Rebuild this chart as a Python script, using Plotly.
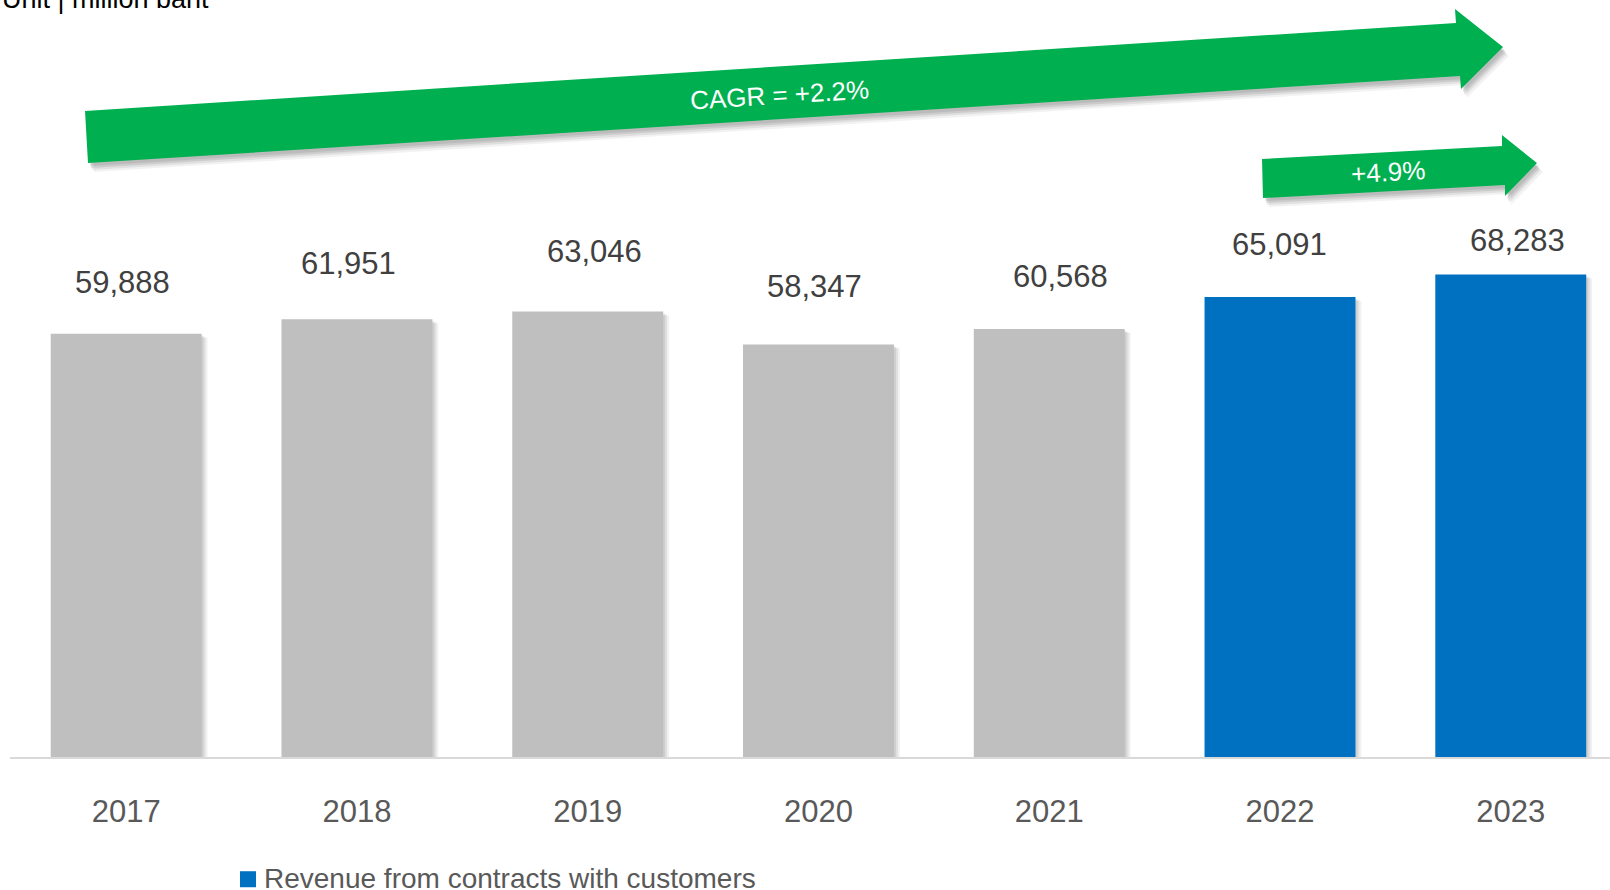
import plotly.graph_objects as go

# ---------------- data ----------------
years = ["2017", "2018", "2019", "2020", "2021", "2022", "2023"]
revenue = [59888, 61951, 63046, 58347, 60568, 65091, 68283]
highlight_years = ["2022", "2023"]
series_name = "Revenue from contracts with customers"
cagr_total_text = "CAGR = +2.2%"
cagr_recent_text = "+4.9%"
unit_text = "Unit | million baht"

# label nudges (pixels) as placed in the original slide
label_dx = [-4, -8, 7, -4, 11, -1, 7]
label_dy = [51, 56, 60, 58, 52, 52, 34]

# ---------------- geometry ----------------
W, H = 1610, 890
ML, MR, MT, MB = 10, 0, 0, 133.2
PW = W - ML - MR
PH = H - MT - MB
PX_PER_UNIT = 7.066e-3
Y_MAX = PH / PX_PER_UNIT
X_RANGE = [-0.5035, 6.430]
PX_PER_CAT = PW / (X_RANGE[1] - X_RANGE[0])
BAR_W = 0.654


def px(x):
    return (x - ML) / PW


def py(y):
    return (MT + PH - y) / PH


FONT = "Liberation Sans, Arial, sans-serif"
GRAY = "#bfbfbf"
BLUE = "#0070c0"
GREEN = "#00b050"

gray_x = [y for y in years if y not in highlight_years]
gray_v = [v for y, v in zip(years, revenue) if y not in highlight_years]
blue_x = [y for y in years if y in highlight_years]
blue_v = [v for y, v in zip(years, revenue) if y in highlight_years]

fig = go.Figure()
# soft drop shadow behind bars
for dx, dy, a in ((6, 4, 0.05), (4, 3, 0.07), (2, 2, 0.08)):
    fig.add_trace(go.Bar(x=years, y=[v - dy / PX_PER_UNIT for v in revenue],
                         width=BAR_W, offset=-BAR_W / 2 + dx / PX_PER_CAT,
                         marker=dict(color=f"rgba(0,0,0,{a})", line=dict(width=0)),
                         showlegend=False, hoverinfo="skip"))
fig.add_trace(go.Bar(x=gray_x, y=gray_v, width=BAR_W, offset=-BAR_W / 2,
                     marker=dict(color=GRAY, line=dict(width=0)),
                     showlegend=False, hoverinfo="x+y"))
fig.add_trace(go.Bar(x=blue_x, y=blue_v, width=BAR_W, offset=-BAR_W / 2,
                     marker=dict(color=BLUE, line=dict(width=0)),
                     name=series_name, showlegend=False, hoverinfo="x+y"))


def poly(points):
    return "M " + " L ".join(f"{px(x):.5f},{py(y):.5f}" for x, y in points) + " Z"


big_arrow = [(85, 111), (1456, 23), (1455, 9), (1503, 47), (1461, 89), (1460, 76), (88, 163)]
small_arrow = [(1262, 159), (1502, 146), (1502, 135), (1537, 163), (1505, 196), (1505, 185), (1263, 198)]

shapes = []
for pts in (big_arrow, small_arrow):
    for dx, dy, a in ((6, 9, 0.05), (4, 7, 0.07), (3, 5, 0.09), (2, 3, 0.08)):
        shapes.append(dict(type="path", xref="paper", yref="paper",
                           path=poly([(x + dx, y + dy) for x, y in pts]),
                           fillcolor=f"rgba(0,0,0,{a})", line=dict(width=0)))
    shapes.append(dict(type="path", xref="paper", yref="paper", path=poly(pts),
                       fillcolor=GREEN, line=dict(width=0)))

# legend swatch
shapes.append(dict(type="rect", xref="paper", yref="paper",
                   x0=px(240), x1=px(256), y0=py(887), y1=py(871),
                   fillcolor=BLUE, line=dict(width=0)))

annotations = []
for i, v in enumerate(revenue):
    annotations.append(dict(x=i, y=v, xref="x", yref="y", text=f"{v:,}",
                            showarrow=False, xshift=label_dx[i], yshift=label_dy[i],
                            yanchor="middle", xanchor="center",
                            font=dict(family=FONT, size=31, color="#404040")))

annotations.append(dict(x=px(779), y=py(94.5), xref="paper", yref="paper",
                        text=cagr_total_text, showarrow=False, textangle=-3.6,
                        xanchor="center", yanchor="middle",
                        font=dict(family=FONT, size=26, color="white")))
annotations.append(dict(x=px(1388), y=py(172), xref="paper", yref="paper",
                        text=cagr_recent_text, showarrow=False, textangle=-3.1,
                        xanchor="center", yanchor="middle",
                        font=dict(family=FONT, size=26, color="white")))
annotations.append(dict(x=px(262), y=py(878.5), xref="paper", yref="paper",
                        text=series_name, showarrow=False, xanchor="left", yanchor="middle",
                        font=dict(family=FONT, size=28, color="#595959")))
annotations.append(dict(x=px(211), y=py(-1), xref="paper", yref="paper",
                        text=unit_text, showarrow=False, xanchor="right", yanchor="middle",
                        font=dict(family=FONT, size=27, color="#000000")))

fig.update_layout(
    width=W, height=H,
    margin=dict(l=ML, r=MR, t=MT, b=MB, autoexpand=False),
    paper_bgcolor="white", plot_bgcolor="white",
    barmode="overlay",
    showlegend=False,
    shapes=shapes, annotations=annotations,
    font=dict(family=FONT),
    xaxis=dict(type="category", categoryorder="array", categoryarray=years,
               range=X_RANGE, showgrid=False, zeroline=False,
               showline=True, linecolor="#d9d9d9", linewidth=2,
               ticks="", ticklabelstandoff=26,
               tickfont=dict(family=FONT, size=31, color="#595959"), fixedrange=True),
    yaxis=dict(range=[0, Y_MAX], visible=False, showgrid=False, zeroline=False, fixedrange=True),
)

fig.write_html("out.html", config={"displayModeBar": False},
               post_script="document.body.style.margin='0px';document.body.style.overflow='hidden';")
